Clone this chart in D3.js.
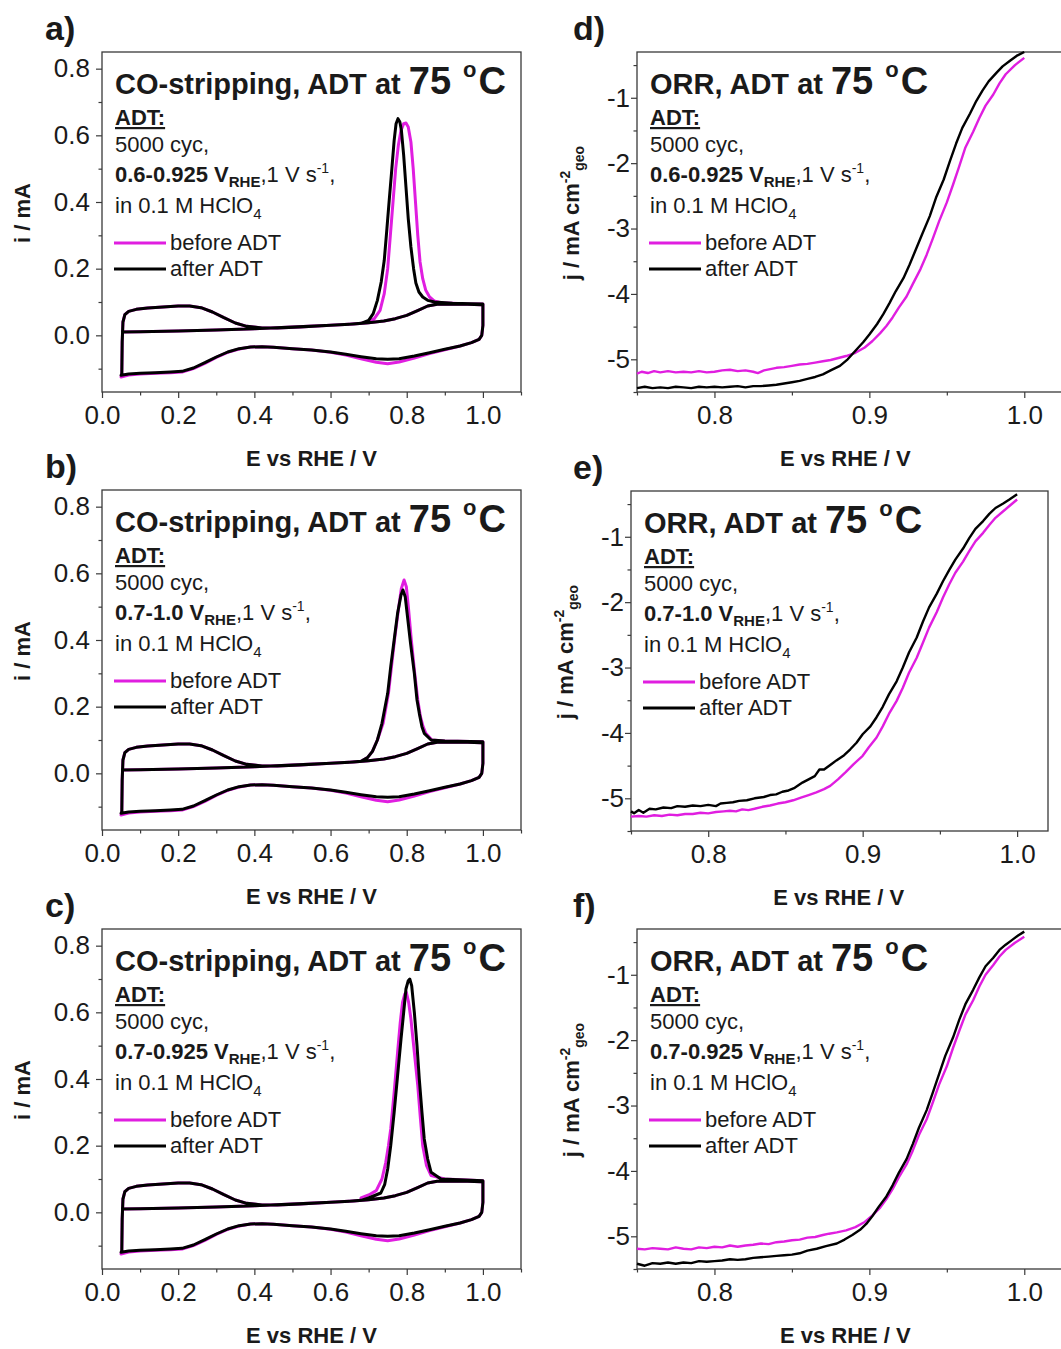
<!DOCTYPE html>
<html>
<head>
<meta charset="utf-8">
<script src="https://cdn.jsdelivr.net/npm/d3@7"></script>
<style>
body { margin: 0; background: #fff; }
text { font-family: "Liberation Sans", Arial, sans-serif; fill: #1a1a1a; }
</style>
</head>
<body>
<script>
// ---- data ----
// CO-stripping CVs: E vs RHE / V, i / mA
var coStripStart = [[0.05,0.010],[0.10,0.011],[0.20,0.013],[0.30,0.016],[0.40,0.020],[0.50,0.025],[0.60,0.030],[0.65,0.033],[0.68,0.036]];
var coCathodicBefore = [[1.0,0.092],[1.0,0.03],[0.997,0.0],[0.99,-0.012],[0.97,-0.022],[0.94,-0.032],[0.90,-0.043],[0.86,-0.055],[0.82,-0.068],[0.78,-0.080],[0.75,-0.085],[0.72,-0.081],[0.68,-0.070],[0.64,-0.059],[0.60,-0.051],[0.55,-0.044],[0.50,-0.040],[0.45,-0.036],[0.42,-0.034],[0.39,-0.035],[0.36,-0.041],[0.33,-0.051],[0.30,-0.066],[0.27,-0.084],[0.24,-0.100],[0.21,-0.110],[0.18,-0.112],[0.14,-0.114],[0.10,-0.116],[0.07,-0.119],[0.05,-0.125]];
var coCathodicAfter = [[1.0,0.092],[1.0,0.03],[0.997,0.0],[0.99,-0.012],[0.97,-0.022],[0.94,-0.032],[0.90,-0.042],[0.86,-0.052],[0.82,-0.062],[0.78,-0.070],[0.75,-0.072],[0.72,-0.070],[0.68,-0.064],[0.64,-0.057],[0.60,-0.050],[0.55,-0.044],[0.50,-0.040],[0.45,-0.036],[0.42,-0.034],[0.39,-0.035],[0.36,-0.040],[0.33,-0.050],[0.30,-0.065],[0.27,-0.082],[0.24,-0.098],[0.21,-0.108],[0.18,-0.110],[0.14,-0.112],[0.10,-0.114],[0.07,-0.116],[0.05,-0.120]];
var coAnodicBase = [[0.052,-0.115],[0.053,-0.02],[0.055,0.040],[0.06,0.062],[0.07,0.072],[0.09,0.078],[0.12,0.082],[0.16,0.085],[0.20,0.088],[0.23,0.088],[0.26,0.083],[0.29,0.070],[0.32,0.053],[0.35,0.037],[0.38,0.027],[0.42,0.022],[0.46,0.022],[0.52,0.025],[0.60,0.030],[0.66,0.034],[0.70,0.038],[0.74,0.043],[0.77,0.050],[0.80,0.060],[0.83,0.075],[0.855,0.088],[0.88,0.093],[0.92,0.094],[0.96,0.093],[0.995,0.092],[1.0,0.092]];

var coPeakBeforeA = [[0.70,0.040],[0.715,0.050],[0.73,0.075],[0.741,0.125],[0.75,0.20],[0.757,0.30],[0.764,0.40],[0.771,0.50],[0.778,0.57],[0.785,0.615],[0.792,0.635],[0.798,0.637],[0.804,0.625],[0.811,0.58],[0.817,0.50],[0.823,0.40],[0.829,0.30],[0.835,0.22],[0.842,0.17],[0.85,0.135],[0.86,0.115],[0.872,0.103],[0.89,0.098],[0.95,0.095],[1.0,0.094]];
var coPeakAfterA = [[0.70,0.045],[0.712,0.065],[0.723,0.105],[0.733,0.16],[0.741,0.225],[0.748,0.32],[0.754,0.405],[0.761,0.50],[0.767,0.585],[0.772,0.635],[0.777,0.650],[0.782,0.640],[0.786,0.615],[0.792,0.54],[0.798,0.445],[0.804,0.35],[0.811,0.265],[0.818,0.20],[0.824,0.157],[0.832,0.13],[0.842,0.115],[0.855,0.105],[0.873,0.100],[0.92,0.096],[0.97,0.095],[1.0,0.094]];
var coPeakBeforeB = [[0.697,0.047],[0.71,0.066],[0.723,0.10],[0.738,0.15],[0.752,0.24],[0.76,0.32],[0.769,0.41],[0.778,0.49],[0.786,0.555],[0.793,0.580],[0.799,0.560],[0.805,0.49],[0.812,0.40],[0.821,0.30],[0.829,0.22],[0.836,0.17],[0.843,0.14],[0.85,0.12],[0.866,0.10],[0.90,0.097],[1.0,0.095]];
var coPeakAfterB = [[0.697,0.047],[0.71,0.066],[0.723,0.10],[0.735,0.15],[0.75,0.24],[0.758,0.32],[0.767,0.40],[0.776,0.48],[0.785,0.535],[0.790,0.550],[0.796,0.530],[0.802,0.47],[0.81,0.39],[0.82,0.30],[0.827,0.22],[0.833,0.18],[0.84,0.14],[0.846,0.12],[0.864,0.100],[0.90,0.097],[1.0,0.095]];
var coPeakBeforeC = [[0.68,0.043],[0.70,0.052],[0.72,0.065],[0.735,0.10],[0.745,0.15],[0.752,0.20],[0.758,0.25],[0.767,0.36],[0.776,0.48],[0.783,0.57],[0.789,0.63],[0.795,0.655],[0.799,0.660],[0.805,0.63],[0.811,0.58],[0.82,0.48],[0.829,0.38],[0.836,0.28],[0.842,0.20],[0.852,0.14],[0.864,0.11],[0.90,0.100],[1.0,0.095]];
var coPeakAfterC = [[0.70,0.043],[0.732,0.058],[0.742,0.083],[0.75,0.13],[0.758,0.20],[0.767,0.30],[0.776,0.41],[0.785,0.52],[0.792,0.60],[0.798,0.67],[0.804,0.695],[0.808,0.700],[0.813,0.68],[0.82,0.60],[0.827,0.50],[0.833,0.40],[0.84,0.30],[0.846,0.22],[0.855,0.16],[0.864,0.12],[0.89,0.100],[1.0,0.095]];

// ORR polarisation curves: E vs RHE / V, j / mA cm-2
var orrBeforeD = [[0.75,-5.22],[0.753,-5.19],[0.757,-5.21],[0.761,-5.18],[0.765,-5.20],[0.77,-5.18],[0.775,-5.20],[0.78,-5.19],[0.785,-5.20],[0.79,-5.18],[0.795,-5.20],[0.80,-5.19],[0.805,-5.17],[0.81,-5.16],[0.815,-5.18],[0.82,-5.17],[0.825,-5.19],[0.828,-5.21],[0.832,-5.17],[0.836,-5.15],[0.84,-5.13],[0.845,-5.12],[0.85,-5.10],[0.855,-5.08],[0.86,-5.07],[0.865,-5.05],[0.87,-5.03],[0.875,-5.01],[0.88,-4.98],[0.885,-4.95],[0.891,-4.90],[0.897,-4.82],[0.902,-4.72],[0.907,-4.60],[0.911,-4.49],[0.915,-4.36],[0.919,-4.21],[0.924,-4.04],[0.928,-3.85],[0.933,-3.62],[0.937,-3.40],[0.941,-3.15],[0.945,-2.89],[0.95,-2.60],[0.954,-2.33],[0.958,-2.05],[0.962,-1.76],[0.967,-1.52],[0.971,-1.31],[0.975,-1.12],[0.98,-0.95],[0.984,-0.78],[0.988,-0.64],[0.994,-0.50],[1.0,-0.39]];
var orrAfterD = [[0.75,-5.44],[0.755,-5.42],[0.76,-5.44],[0.765,-5.43],[0.77,-5.44],[0.775,-5.42],[0.78,-5.43],[0.785,-5.44],[0.79,-5.42],[0.795,-5.43],[0.80,-5.42],[0.805,-5.43],[0.81,-5.42],[0.815,-5.41],[0.82,-5.43],[0.825,-5.41],[0.83,-5.41],[0.835,-5.40],[0.84,-5.39],[0.845,-5.37],[0.85,-5.35],[0.855,-5.33],[0.86,-5.30],[0.865,-5.27],[0.87,-5.23],[0.875,-5.17],[0.881,-5.10],[0.886,-5.00],[0.891,-4.87],[0.896,-4.74],[0.90,-4.62],[0.905,-4.46],[0.909,-4.31],[0.913,-4.14],[0.917,-3.96],[0.922,-3.76],[0.926,-3.55],[0.93,-3.32],[0.934,-3.09],[0.939,-2.81],[0.943,-2.53],[0.948,-2.25],[0.952,-1.97],[0.956,-1.70],[0.96,-1.46],[0.965,-1.24],[0.969,-1.05],[0.973,-0.89],[0.977,-0.75],[0.982,-0.62],[0.986,-0.52],[0.991,-0.43],[0.995,-0.36],[1.0,-0.30]];
var orrBeforeE = [[0.75,-5.28],[0.755,-5.27],[0.76,-5.28],[0.765,-5.26],[0.77,-5.27],[0.775,-5.25],[0.78,-5.26],[0.785,-5.24],[0.79,-5.24],[0.795,-5.22],[0.80,-5.23],[0.805,-5.21],[0.81,-5.20],[0.814,-5.19],[0.818,-5.20],[0.822,-5.17],[0.826,-5.18],[0.83,-5.16],[0.835,-5.13],[0.84,-5.11],[0.845,-5.08],[0.85,-5.06],[0.855,-5.03],[0.86,-4.99],[0.865,-4.95],[0.87,-4.91],[0.875,-4.86],[0.879,-4.81],[0.884,-4.71],[0.889,-4.60],[0.894,-4.48],[0.90,-4.35],[0.904,-4.22],[0.909,-4.07],[0.913,-3.90],[0.917,-3.71],[0.922,-3.51],[0.926,-3.31],[0.93,-3.08],[0.935,-2.85],[0.939,-2.62],[0.943,-2.39],[0.948,-2.15],[0.952,-1.93],[0.956,-1.73],[0.96,-1.55],[0.965,-1.38],[0.969,-1.22],[0.973,-1.07],[0.978,-0.94],[0.982,-0.82],[0.986,-0.71],[0.991,-0.61],[0.995,-0.53],[1.0,-0.43]];
var orrAfterE = [[0.75,-5.20],[0.752,-5.23],[0.755,-5.18],[0.758,-5.22],[0.762,-5.16],[0.766,-5.17],[0.771,-5.14],[0.776,-5.15],[0.78,-5.12],[0.785,-5.13],[0.79,-5.11],[0.795,-5.12],[0.80,-5.10],[0.805,-5.12],[0.808,-5.08],[0.812,-5.07],[0.816,-5.06],[0.82,-5.04],[0.825,-5.03],[0.83,-5.00],[0.836,-4.98],[0.84,-4.95],[0.844,-4.94],[0.848,-4.90],[0.852,-4.88],[0.856,-4.84],[0.861,-4.76],[0.865,-4.71],[0.869,-4.66],[0.872,-4.56],[0.875,-4.56],[0.879,-4.49],[0.883,-4.42],[0.888,-4.34],[0.892,-4.25],[0.896,-4.15],[0.90,-4.02],[0.905,-3.90],[0.909,-3.76],[0.913,-3.60],[0.917,-3.41],[0.922,-3.21],[0.926,-3.00],[0.93,-2.77],[0.935,-2.54],[0.939,-2.30],[0.943,-2.08],[0.948,-1.87],[0.952,-1.68],[0.956,-1.51],[0.96,-1.35],[0.965,-1.18],[0.969,-1.02],[0.973,-0.88],[0.978,-0.76],[0.982,-0.65],[0.986,-0.56],[0.991,-0.49],[0.995,-0.43],[1.0,-0.35]];
var orrBeforeF = [[0.75,-5.19],[0.755,-5.20],[0.76,-5.18],[0.765,-5.19],[0.77,-5.20],[0.775,-5.17],[0.78,-5.19],[0.785,-5.20],[0.79,-5.17],[0.795,-5.18],[0.80,-5.16],[0.805,-5.17],[0.81,-5.14],[0.815,-5.16],[0.82,-5.14],[0.825,-5.13],[0.83,-5.11],[0.835,-5.12],[0.84,-5.09],[0.845,-5.08],[0.85,-5.06],[0.855,-5.05],[0.86,-5.02],[0.865,-5.01],[0.87,-4.98],[0.874,-4.96],[0.879,-4.94],[0.885,-4.91],[0.891,-4.86],[0.897,-4.78],[0.902,-4.68],[0.907,-4.56],[0.911,-4.43],[0.915,-4.28],[0.919,-4.10],[0.924,-3.90],[0.928,-3.69],[0.932,-3.45],[0.937,-3.21],[0.941,-2.95],[0.945,-2.68],[0.95,-2.40],[0.954,-2.12],[0.958,-1.86],[0.962,-1.61],[0.967,-1.39],[0.971,-1.18],[0.975,-1.00],[0.98,-0.85],[0.984,-0.72],[0.988,-0.62],[0.994,-0.51],[1.0,-0.42]];
var orrAfterF = [[0.75,-5.42],[0.755,-5.45],[0.76,-5.41],[0.765,-5.42],[0.77,-5.40],[0.775,-5.42],[0.78,-5.40],[0.785,-5.41],[0.79,-5.38],[0.795,-5.39],[0.80,-5.38],[0.805,-5.37],[0.81,-5.35],[0.815,-5.36],[0.82,-5.35],[0.825,-5.33],[0.83,-5.32],[0.835,-5.31],[0.84,-5.30],[0.845,-5.29],[0.85,-5.28],[0.855,-5.26],[0.86,-5.22],[0.866,-5.19],[0.872,-5.15],[0.879,-5.11],[0.884,-5.05],[0.889,-4.98],[0.894,-4.90],[0.898,-4.81],[0.902,-4.69],[0.906,-4.55],[0.911,-4.39],[0.915,-4.22],[0.919,-4.03],[0.924,-3.82],[0.928,-3.59],[0.932,-3.34],[0.937,-3.07],[0.941,-2.80],[0.945,-2.52],[0.949,-2.24],[0.954,-1.96],[0.958,-1.69],[0.962,-1.45],[0.967,-1.23],[0.971,-1.04],[0.975,-0.87],[0.98,-0.74],[0.984,-0.62],[0.988,-0.54],[0.992,-0.47],[0.996,-0.40],[1.0,-0.34]];

// axis ticks
var coXMajor = [0, 0.2, 0.4, 0.6, 0.8, 1.0];
var coXMinor = [0.1, 0.3, 0.5, 0.7, 0.9, 1.1];
var coYMajor = [0, 0.2, 0.4, 0.6, 0.8];
var coYMinor = [-0.1, 0.1, 0.3, 0.5, 0.7];
var orrXMajor = [0.8, 0.9, 1.0];
var orrXMinor = [0.75, 0.85, 0.95];
var orrYMajor = [-5, -4, -3, -2, -1];
var orrYMinor = [-5.5, -4.5, -3.5, -2.5, -1.5, -0.5];

var seriesNames = ["before ADT", "after ADT"];
var adtWindows = ["0.6-0.925", "0.7-1.0", "0.7-0.925"];

// ---- drawing ----
var W = 1061, H = 1349;
var magenta = "#e01ee0", black = "#000000", axisColor = "#3a3a3a";

var svg = d3.select("body").append("svg")
    .attr("width", W)
    .attr("height", H);

var panels = [
  {label: "a)", kind: "co",  x0: 102, x1: 521,  top: 52,  xDom: [0, 1.1], adt: adtWindows[0], before: coStripStart.concat(coPeakBeforeA), after: coStripStart.concat(coPeakAfterA)},
  {label: "b)", kind: "co",  x0: 102, x1: 521,  top: 490, xDom: [0, 1.1], adt: adtWindows[1], before: coStripStart.concat(coPeakBeforeB), after: coStripStart.concat(coPeakAfterB)},
  {label: "c)", kind: "co",  x0: 102, x1: 521,  top: 929, xDom: [0, 1.1], adt: adtWindows[2], before: coStripStart.concat(coPeakBeforeC), after: coStripStart.concat(coPeakAfterC)},
  {label: "d)", kind: "orr", x0: 637, x1: 1063, top: 52,  xDom: [0.75, 1.025], adt: adtWindows[0], before: orrBeforeD, after: orrAfterD},
  {label: "e)", kind: "orr", x0: 631, x1: 1048, top: 491, xDom: [0.75, 1.02],  adt: adtWindows[1], before: orrBeforeE, after: orrAfterE},
  {label: "f)", kind: "orr", x0: 637, x1: 1063, top: 929, xDom: [0.75, 1.025], adt: adtWindows[2], before: orrBeforeF, after: orrAfterF}
];
var panelH = 340;

panels.forEach(function(p){ drawPanel(p); });

function drawPanel(p){
  var co = p.kind == "co";
  var bottom = p.top + panelH;
  var x = d3.scaleLinear().domain(p.xDom).range([p.x0, p.x1]);
  var y = d3.scaleLinear().domain(co ? [-0.17, 0.85] : [-5.5, -0.3]).range([bottom, p.top]);
  var g = svg.append("g");

  // frame
  g.append("rect")
     .attr("x", p.x0).attr("y", p.top)
     .attr("width", p.x1 - p.x0).attr("height", panelH)
     .attr("fill", "none")
     .attr("stroke", axisColor)
     .attr("stroke-width", 1.3);

  // axes
  var fmtX = d3.format(".1f");
  var fmtY = co ? d3.format(".1f") : function(d){ return String(d); };
  var xAx = g.append("g").attr("transform", "translate(0," + bottom + ")");
  xAx.append("g").call(d3.axisBottom(x).tickValues(co ? coXMinor : orrXMinor).tickSize(3.5).tickFormat(""));
  xAx.append("g").call(d3.axisBottom(x).tickValues(co ? coXMajor : orrXMajor).tickSize(6).tickPadding(8).tickFormat(fmtX));
  var yAx = g.append("g").attr("transform", "translate(" + p.x0 + ",0)");
  yAx.append("g").call(d3.axisLeft(y).tickValues(co ? coYMinor : orrYMinor).tickSize(3.5).tickFormat(""));
  yAx.append("g").call(d3.axisLeft(y).tickValues(co ? coYMajor : orrYMajor).tickSize(6).tickPadding(co ? 6 : 1).tickFormat(fmtY));
  g.selectAll(".domain").remove();
  g.selectAll(".tick line").attr("stroke", axisColor).attr("stroke-width", 1.2);
  g.selectAll(".tick text")
     .attr("font-family", "'Liberation Sans', Arial, sans-serif")
     .attr("font-size", 26)
     .attr("fill", "#1a1a1a");

  // curves
  var line = d3.line()
      .x(function(d){ return x(d[0]); })
      .y(function(d){ return y(d[1]); });
  var before = p.before, after = p.after;
  if (co) {
    before = before.concat(coCathodicBefore, coAnodicBase, coCathodicBefore.slice(0, 3));
    after = after.concat(coCathodicAfter, coAnodicBase, coCathodicAfter.slice(0, 3));
  }
  var lw = co ? 3 : 2.4;
  g.append("path").datum(before)
     .attr("d", line).attr("fill", "none")
     .attr("stroke", magenta).attr("stroke-width", lw)
     .attr("stroke-linejoin", "round");
  g.append("path").datum(after)
     .attr("d", line).attr("fill", "none")
     .attr("stroke", black).attr("stroke-width", lw)
     .attr("stroke-linejoin", "round");

  // panel letter
  svg.append("text")
     .attr("x", p.x0 - (co ? 57 : 64) + (p.label == "e)" ? 6 : 0))
     .attr("y", p.top - 12)
     .attr("font-size", 34).attr("font-weight", "bold")
     .text(p.label);

  // axis titles
  svg.append("text")
     .attr("x", co ? (p.x0 + p.x1) / 2 : x(0.9) - 24)
     .attr("y", bottom + 74)
     .attr("text-anchor", "middle")
     .attr("font-size", 22).attr("font-weight", "bold")
     .text("E vs RHE / V");

  var yt = svg.append("text")
     .attr("transform", "translate(" + (co ? p.x0 - 72 : p.x0 - 58) + "," + (p.top + 161) + ") rotate(-90)")
     .attr("text-anchor", "middle")
     .attr("font-size", 22).attr("font-weight", "bold");
  if (co) {
    yt.text("i / mA");
  } else {
    yt.append("tspan").text("j / mA cm");
    yt.append("tspan").attr("font-size", 14).attr("dy", -9).text("-2");
    yt.append("tspan").attr("font-size", 14).attr("dy", 14).text("geo");
  }

  // annotation block
  var lx = p.x0 + 13, t = p.top;
  var title = svg.append("text").attr("x", lx).attr("y", t + 42)
     .attr("font-size", 29).attr("font-weight", "bold");
  title.append("tspan").text(co ? "CO-stripping, ADT at " : "ORR, ADT at ");
  title.append("tspan").attr("font-size", 38).text("75");
  title.append("tspan").attr("font-size", 22).attr("dx", 12).attr("dy", -17).text("o");
  title.append("tspan").attr("font-size", 38).attr("dx", 2).attr("dy", 17).text("C");

  svg.append("text").attr("x", lx).attr("y", t + 73)
     .attr("font-size", 22).attr("font-weight", "bold")
     .attr("text-decoration", "underline")
     .text("ADT:");
  svg.append("text").attr("x", lx).attr("y", t + 100)
     .attr("font-size", 22)
     .text("5000 cyc,");
  var l3 = svg.append("text").attr("x", lx).attr("y", t + 130).attr("font-size", 22);
  l3.append("tspan").attr("font-weight", "bold").text(p.adt + " V");
  l3.append("tspan").attr("font-weight", "bold").attr("font-size", 15).attr("dy", 5).text("RHE");
  l3.append("tspan").attr("dy", -5).text(",1 V s");
  l3.append("tspan").attr("font-size", 14).attr("dy", -9).text("-1");
  l3.append("tspan").attr("dy", 9).text(",");
  var l4 = svg.append("text").attr("x", lx).attr("y", t + 161).attr("font-size", 22);
  l4.append("tspan").text("in 0.1 M HClO");
  l4.append("tspan").attr("font-size", 15).attr("dy", 6).text("4");

  // legend
  [magenta, black].forEach(function(c, i){
    var ly = t + 191 + i * 26;
    svg.append("line")
       .attr("x1", p.x0 + 12).attr("x2", p.x0 + 64)
       .attr("y1", ly).attr("y2", ly)
       .attr("stroke", c).attr("stroke-width", 3);
    svg.append("text").attr("x", p.x0 + 68).attr("y", ly + 7)
       .attr("font-size", 22)
       .text(seriesNames[i]);
  });
}
</script>
</body>
</html>
